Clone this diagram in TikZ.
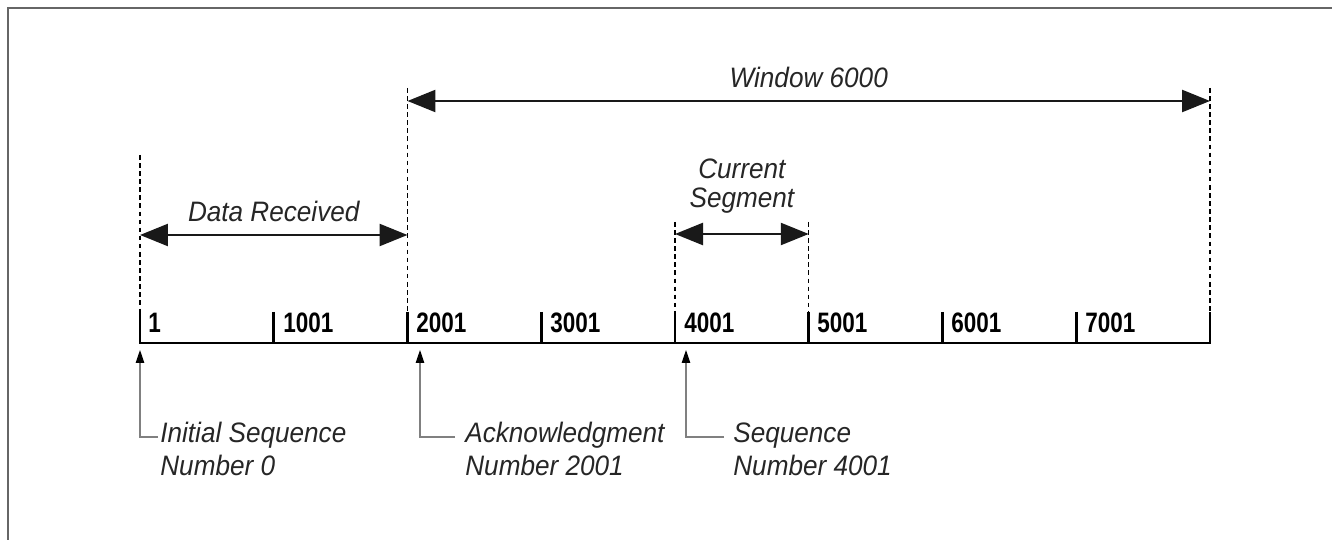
\documentclass[tikz,border=0pt]{standalone}
\usepackage{fontspec}
\setmainfont{Liberation Sans}
\newfontfamily\narrowit[FakeStretch=0.93]{Liberation Sans}
\newfontfamily\narrowbf[FakeStretch=0.8]{Liberation Sans}
\usetikzlibrary{arrows.meta,positioning}

\begin{document}
\begin{tikzpicture}[x=0.02cm, y=-0.02cm,
    span/.style={{Triangle[length=0.56cm,width=0.44cm]}-{Triangle[length=0.56cm,width=0.44cm]}, line width=1.4pt, black!90},
    guide/.style={dash pattern=on 2.6pt off 2pt, line width=0.75pt},
    pointer/.style={-{Triangle[length=0.26cm,width=0.17cm,color=black]}, line width=0.6pt, black!50},
    ticklabel/.style={anchor=base west, inner sep=0pt, font=\fontsize{16}{19}\selectfont\narrowbf\bfseries},
    caption/.style={inner sep=0pt, text=black!85, font=\fontsize{16}{18.7}\selectfont\narrowit\itshape}]
    \useasboundingbox (0,0) rectangle (1332,540);
    % frame (only top and left edges show)
    \draw[black!60, line width=1.1pt] (8,540) -- (8,8) -- (1332,8);
    % sequence axis with ticks
    \coordinate (t0) at (140,343);
    \coordinate (t8) at (1210,343);
    \draw[line width=1.6pt] (140,312) -- (t0) -- (t8) -- (1210,312);
    \draw[line width=1.6pt] (273.75,312) -- (273.75,343);
    \draw[line width=1.6pt] (407.5,312) -- (407.5,343);
    \draw[line width=1.6pt] (541.25,312) -- (541.25,343);
    \draw[line width=1.6pt] (675,312) -- (675,343);
    \draw[line width=1.6pt] (808.75,312) -- (808.75,343);
    \draw[line width=1.6pt] (942.5,312) -- (942.5,343);
    \draw[line width=1.6pt] (1076.25,312) -- (1076.25,343);
    \node[ticklabel] (l1) at (148,333) {1};
    \node[ticklabel] (l1001) at (283,333) {1001};
    \node[ticklabel] (l2001) at (416,333) {2001};
    \node[ticklabel] (l3001) at (550,333) {3001};
    \node[ticklabel] (l4001) at (684,333) {4001};
    \node[ticklabel] (l5001) at (817,333) {5001};
    \node[ticklabel] (l6001) at (951,333) {6001};
    \node[ticklabel] (l7001) at (1085,333) {7001};
    % dashed guides up from the ticks
    \coordinate (g0) at (140,155);
    \coordinate (g2) at (407.5,88);
    \coordinate (g4) at (675,222);
    \coordinate (g5) at (808.75,222);
    \coordinate (g8) at (1210,88);
    \draw[guide] (g0) -- (140,312);
    \draw[guide] (g2) -- (407.5,312);
    \draw[guide] (g4) -- (675,312);
    \draw[guide] (g5) -- (808.75,312);
    \draw[guide] (g8) -- (1210,312);
    % spans
    \coordinate (dr0) at (140,235);
    \coordinate (dr1) at (407.5,235);
    \draw[span] (dr0) -- node[caption, midway, anchor=base, yshift=0.26cm] (datarec) {Data Received} (dr1);
    \coordinate (win0) at (407.5,101);
    \coordinate (win1) at (1210,101);
    \draw[span] (win0) -- node[caption, midway, anchor=base, yshift=0.26cm] (window) {Window 6000} (win1);
    \coordinate (cs0) at (675,234);
    \coordinate (cs1) at (808.75,234);
    \draw[span] (cs0) -- node[caption, midway, anchor=base, yshift=0.54cm, align=center, font=\fontsize{16}{16.5}\selectfont\narrowit\itshape] (curseg) {Current\\Segment} (cs1);
    % pointers from below
    \node[caption, anchor=base west, align=left] (isn) at (160,475) {Initial Sequence\\Number 0};
    \node[caption, anchor=base west, align=left] (ack) at (465,475) {Acknowledgment\\Number 2001};
    \node[caption, anchor=base west, align=left] (seq) at (733,475) {Sequence\\Number 4001};
    \coordinate (isnh) at (158,437);
    \coordinate (ackh) at (455,437);
    \coordinate (seqh) at (724,437);
    \draw[pointer] (isnh) -- (140,437) -- (140,350);
    \draw[pointer] (ackh) -- (420,437) -- (420,350);
    \draw[pointer] (seqh) -- (686,437) -- (686,350);
\end{tikzpicture}
\end{document}
